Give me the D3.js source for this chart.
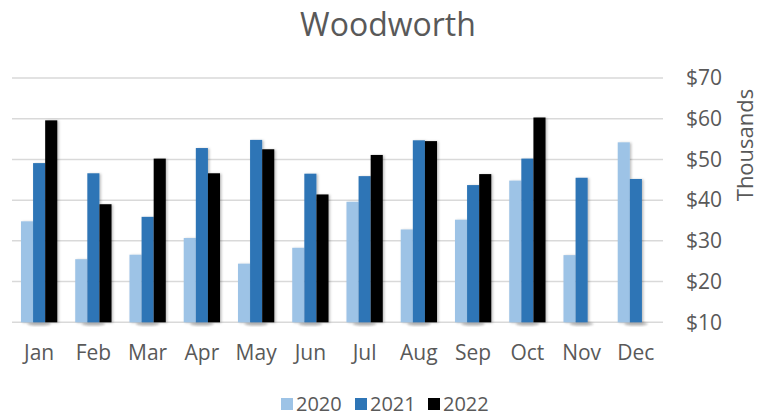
<!DOCTYPE html>
<html>
<head>
<meta charset="utf-8">
<script src="https://cdn.jsdelivr.net/npm/d3@7"></script>
<style>
  body { margin: 0; background: #fff; }
  svg text { font-family: "Open Sans", "Noto Sans", sans-serif; fill: #595959; }
</style>
</head>
<body>
<svg id="chart" width="759" height="417"></svg>
<script>
// data (thousands of dollars)
var months = ["Jan","Feb","Mar","Apr","May","Jun","Jul","Aug","Sep","Oct","Nov","Dec"];
var series = ["2020","2021","2022"];
var colors = ["#9DC3E6","#2E75B6","#000000"];
var v2020 = [34.8, 25.5, 26.6, 30.7, 24.4, 28.3, 39.6, 32.8, 35.2, 44.8, 26.5, 54.2];
var v2021 = [49.1, 46.6, 35.9, 52.8, 54.8, 46.5, 45.9, 54.7, 43.7, 50.2, 45.5, 45.2];
var v2022 = [59.6, 39.0, 50.2, 46.6, 52.5, 41.4, 51.1, 54.5, 46.4, 60.3, null, null];
var yTicks = [10, 20, 30, 40, 50, 60, 70];

var values = [v2020, v2021, v2022];

var svg = d3.select("#chart");
// note: don't call it "top", window.top is taken
var plotL = 12, plotR = 663, plotT = 78, plotB = 322.3;

// shadow, excel style
var defs = svg.append("defs");
var f = defs.append("filter").attr("id","shadow").attr("x","-30%").attr("y","-10%").attr("width","180%").attr("height","130%");
f.append("feDropShadow").attr("dx",1.5).attr("dy",0.5).attr("stdDeviation",1.2)
  .attr("flood-color","#000").attr("flood-opacity",0.25);
var blur = defs.append("filter").attr("id","blur");
blur.append("feGaussianBlur").attr("stdDeviation",1.2);

var x0 = d3.scaleBand().domain(months).range([plotL, plotR])
  .paddingInner(0.331).paddingOuter(0.1655);
var x1 = d3.scaleBand().domain(series).range([0, x0.bandwidth()]);
var y = d3.scaleLinear().domain([10, 70]).range([plotB, plotT]);

// gridlines
svg.append("g").selectAll("line").data(yTicks).enter().append("line")
  .attr("x1", plotL).attr("x2", plotR)
  .attr("y1", function(d){ return y(d); }).attr("y2", function(d){ return y(d); })
  .attr("stroke", "#D9D9D9").attr("stroke-width", 1.5);

// little ground shadows under the groups
svg.append("g").selectAll("ellipse").data(months).enter().append("ellipse")
  .attr("cx", function(d){ return x0(d) + x0.bandwidth()/2; })
  .attr("cy", plotB + 1.5)
  .attr("rx", 12).attr("ry", 2)
  .attr("fill", "#8c8c8c").attr("opacity", 0.6)
  .attr("filter", "url(#blur)");

// bars
series.forEach(function(s, si){
  var rows = months.map(function(m, i){ return {m: m, v: values[si][i]}; })
    .filter(function(d){ return d.v != null; });
  svg.append("g").attr("filter","url(#shadow)")
    .selectAll("rect").data(rows).enter().append("rect")
    .attr("x", function(d){ return x0(d.m) + x1(s); })
    .attr("width", x1.bandwidth())
    .attr("y", function(d){ return y(d.v); })
    .attr("height", function(d){ return y(10) - y(d.v); })
    .attr("fill", colors[si]);
});

// right axis labels
var yAxis = d3.axisRight(y).tickValues(yTicks).tickSize(0).tickPadding(0)
  .tickFormat(function(d){ return "$" + d; });
var ya = svg.append("g").attr("transform", "translate(686,0)").call(yAxis);
ya.select(".domain").remove();
ya.selectAll("text").attr("font-size", 21).attr("fill", "#595959")
  .style("font-family", "'Open Sans', sans-serif");

svg.append("text")
  .attr("transform", "translate(753,145) rotate(-90)")
  .attr("text-anchor", "middle")
  .attr("font-size", 22)
  .text("Thousands");

// month labels
var xAxis = d3.axisBottom(x0).tickSize(0).tickPadding(0);
var xa = svg.append("g").attr("transform", "translate(0,345)").call(xAxis);
xa.select(".domain").remove();
xa.selectAll("text").attr("font-size", 21).attr("fill", "#595959")
  .attr("dy", "0.71em")
  .style("font-family", "'Open Sans', sans-serif");

// title
svg.append("text")
  .attr("x", 388).attr("y", 36)
  .attr("text-anchor", "middle")
  .attr("font-size", 32)
  .text("Woodworth");

// legend
var legX = [281, 355, 428];
var leg = svg.append("g").selectAll("g").data(series).enter().append("g")
  .attr("transform", function(d, i){ return "translate(" + legX[i] + ",0)"; });
leg.append("rect").attr("x", 0).attr("y", 398).attr("width", 12).attr("height", 12)
  .attr("fill", function(d, i){ return colors[i]; });
leg.append("text").attr("x", 15).attr("y", 411).attr("font-size", 20).text(function(d){ return d; });
</script>
</body>
</html>
